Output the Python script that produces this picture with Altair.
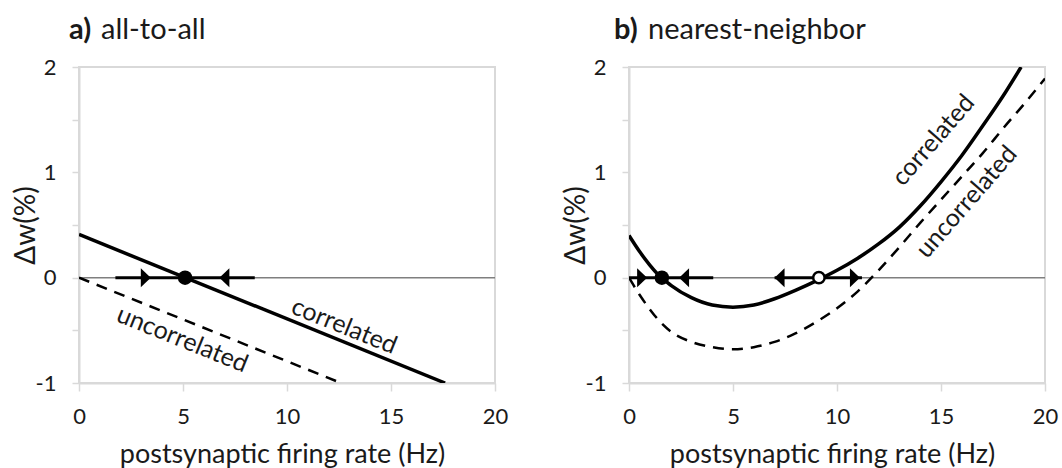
import altair as alt
import pandas as pd

# ---------------- data ----------------
# panel a (all-to-all)
a_corr_x = [0.0, 17.6]
a_corr_y = [0.41, -1.0]
a_unc_x = [0.0, 12.6]
a_unc_y = [0.0, -1.0]
a_seg = [(1.75, 8.45)]
a_right_arrows = [3.2]
a_left_arrows = [7.0]
a_filled = [5.1]
a_open = []

# panel b (nearest-neighbor)
b_corr_x = [0, 0.5, 1, 1.5, 2, 3, 4, 5, 6, 7, 8, 9, 10, 11, 12, 13, 14, 15, 16, 17, 18, 18.85]
b_corr_y = [0.40, 0.25, 0.12, 0.01, -0.07, -0.19, -0.26, -0.28, -0.26, -0.20, -0.12, -0.03,
            0.07, 0.185, 0.32, 0.48, 0.68, 0.91, 1.16, 1.44, 1.73, 2.0]
b_unc_x = [0, 0.5, 1, 1.5, 2, 3, 4, 5, 6, 7, 8, 9, 10, 11, 12, 13, 14, 15, 16, 17, 18, 19, 20]
b_unc_y = [0.0, -0.16, -0.30, -0.42, -0.51, -0.61, -0.66, -0.68, -0.66, -0.61, -0.53, -0.42,
           -0.29, -0.13, 0.07, 0.29, 0.52, 0.74, 0.96, 1.18, 1.42, 1.65, 1.89]
b_seg = [(0.0, 4.05), (7.0, 11.2)]
b_right_arrows = [0.62, 10.85]
b_left_arrows = [2.66, 7.25]
b_filled = [1.58]
b_open = [9.13]

labels_a = [("correlated", 12.75, -0.46, 22), ("uncorrelated", 4.97, -0.585, 22)]
labels_b = [("correlated", 14.63, 1.305, 311), ("uncorrelated", 16.23, 0.72, 311)]

titles = [("a)", "all-to-all"), ("b)", "nearest-neighbor")]
x_title = "postsynaptic firing rate (Hz)"
y_title = "\u0394w(%)"
x_ticks = [0, 5, 10, 15, 20]
y_ticks = [-1, -0.5, 0, 0.5, 1, 1.5, 2]

FONT = "Lato"
W, H = 416, 316
FRAME = "#d9d9d9"
INK = "#1a1a1a"

RIGHT_TRI = "M-0.5,-1L0.55,0L-0.5,1Z"
LEFT_TRI = "M0.5,-1L-0.55,0L0.5,1Z"


def panel(corr_x, corr_y, unc_x, unc_y, segs, rarr, larr, filled, opened, labels, title, tdx):
    xs = alt.Scale(domain=[0, 20], nice=False)
    ys = alt.Scale(domain=[-1, 2], nice=False)
    xax = alt.Axis(values=x_ticks, title=x_title, labelFontSize=22, titleFontSize=27,
                   labelPadding=15, tickSize=8, labelFlush=False, titleX=W / 2 - 5, titleY=58,
                   titleAlign="center", titleBaseline="top")
    yax = alt.Axis(values=y_ticks, title=y_title, labelFontSize=22, titleFontSize=28,
                   labelExpr="datum.value % 1 == 0 ? '' + datum.value : ''",
                   labelPadding=16, tickSize=7, labelFlush=False, titleX=-53, titleY=H / 2,
                   titleAngle=270, titleAlign="center", titleBaseline="middle")
    X = lambda f: alt.X(f, type="quantitative", scale=xs, axis=xax)
    Y = lambda f: alt.Y(f, type="quantitative", scale=ys, axis=yax)

    zero = alt.Chart(pd.DataFrame({"y": [0]})).mark_rule(color="#7f7f7f", strokeWidth=1.5).encode(
        y=Y("y"))
    corr = alt.Chart(pd.DataFrame({"x": corr_x, "y": corr_y})).mark_line(
        color="black", strokeWidth=3.5, clip=True, interpolate="monotone").encode(x=X("x"), y=Y("y"))
    unc = alt.Chart(pd.DataFrame({"x": unc_x, "y": unc_y})).mark_line(
        color="black", strokeWidth=2.5, strokeDash=[11, 8], clip=True,
        interpolate="monotone").encode(x=X("x"), y=Y("y"))
    seg = alt.Chart(pd.DataFrame({"x": [s[0] for s in segs], "x2": [s[1] for s in segs],
                                  "y": [0] * len(segs)})).mark_rule(
        color="black", strokeWidth=3).encode(x=X("x"), x2="x2", y=Y("y"))
    ra = alt.Chart(pd.DataFrame({"x": rarr, "y": [0] * len(rarr)})).mark_point(
        shape=RIGHT_TRI, size=361, filled=True, color="black", opacity=1).encode(x=X("x"), y=Y("y"))
    la = alt.Chart(pd.DataFrame({"x": larr, "y": [0] * len(larr)})).mark_point(
        shape=LEFT_TRI, size=361, filled=True, color="black", opacity=1).encode(x=X("x"), y=Y("y"))
    layers = [zero, unc, corr, seg, ra, la]
    if filled:
        layers.append(alt.Chart(pd.DataFrame({"x": filled, "y": [0] * len(filled)})).mark_point(
            shape="circle", size=210, filled=True, color="black", opacity=1).encode(x=X("x"), y=Y("y")))
    if opened:
        layers.append(alt.Chart(pd.DataFrame({"x": opened, "y": [0] * len(opened)})).mark_point(
            shape="circle", size=130, filled=True, fill="white", stroke="black", strokeWidth=2.5,
            opacity=1).encode(x=X("x"), y=Y("y")))
    for txt, lx, ly, ang in labels:
        layers.append(alt.Chart(pd.DataFrame({"x": [lx], "y": [ly], "t": [txt]})).mark_text(
            font=FONT, fontSize=25, angle=ang, color=INK, align="center",
            baseline="middle").encode(x=X("x"), y=Y("y"), text="t:N"))
    # panel title (bold letter + normal text)
    layers.append(alt.Chart(pd.DataFrame({"t": [title[0]]})).mark_text(
        font=FONT, fontSize=29, fontWeight="bold", align="left", baseline="middle",
        color=INK).encode(x=alt.value(tdx[0]), y=alt.value(-37), text="t:N"))
    layers.append(alt.Chart(pd.DataFrame({"t": [title[1]]})).mark_text(
        font=FONT, fontSize=29, align="left", baseline="middle",
        color=INK).encode(x=alt.value(tdx[1]), y=alt.value(-37), text="t:N"))
    return alt.layer(*layers).properties(width=W, height=H)


pa = panel(a_corr_x, a_corr_y, a_unc_x, a_unc_y, a_seg, a_right_arrows, a_left_arrows,
           a_filled, a_open, labels_a, titles[0], (-10, 22))
pb = panel(b_corr_x, b_corr_y, b_unc_x, b_unc_y, b_seg, b_right_arrows, b_left_arrows,
           b_filled, b_open, labels_b, titles[1], (-15, 19))

chart = alt.hconcat(pa, pb, spacing=52).properties(
    padding={"left": 11, "top": 15, "right": 0, "bottom": 0}
).configure_view(stroke=FRAME, strokeWidth=2).configure_axis(
    domainColor=FRAME, domainWidth=2, tickColor=FRAME, tickWidth=1.5, grid=False,
    labelFont=FONT, titleFont=FONT, labelColor=INK, titleColor=INK,
    titleFontWeight="normal"
)

chart.save("out.html", embed_options={"renderer": "svg", "actions": False})
